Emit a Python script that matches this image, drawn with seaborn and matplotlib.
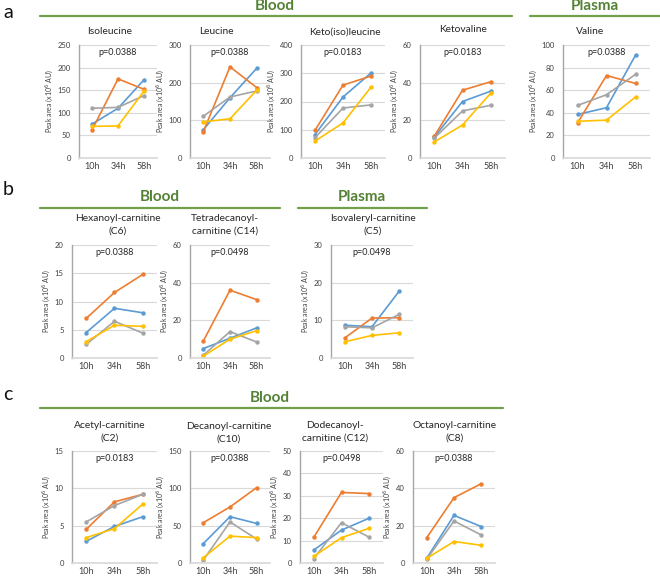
import matplotlib
matplotlib.use("Agg")
import matplotlib.pyplot as plt
from matplotlib.lines import Line2D
import pandas as pd
import seaborn as sns

sns.set_theme(style="white")
plt.rcParams["font.family"] = ["Lato", "DejaVu Sans"]

W, H = 660, 578

# ---------------------------------------------------------------------------
# DATA (x10^6 AU)
# ---------------------------------------------------------------------------
TIMES = ["10h", "34h", "58h"]
SERIES = ["blue", "orange", "gray", "yellow"]
COLORS = {"blue": "#5B9BD5", "orange": "#ED7D31", "gray": "#A5A5A5", "yellow": "#FFC000"}

isoleucine = {"blue": [75, 110, 173], "orange": [62, 175, 152],
              "gray": [110, 112, 138], "yellow": [70, 71, 148]}
leucine = {"blue": [75, 160, 238], "orange": [70, 242, 187],
           "gray": [111, 162, 178], "yellow": [96, 104, 180]}
keto_isoleucine = {"blue": [83, 216, 301], "orange": [98, 258, 290],
                   "gray": [72, 177, 188], "yellow": [60, 124, 251]}
ketovaline = {"blue": [11, 30, 35.5], "orange": [11.5, 36, 40.5],
              "gray": [10.5, 25, 28], "yellow": [8.5, 17.5, 34.5]}
valine = {"blue": [38.5, 44.5, 91], "orange": [31, 73, 66],
          "gray": [46.5, 56, 74], "yellow": [32.5, 33.5, 54]}
hexanoyl = {"blue": [4.5, 8.8, 8.0], "orange": [7, 11.6, 14.8],
            "gray": [2.4, 6.5, 4.4], "yellow": [2.9, 5.8, 5.6]}
tetradecanoyl = {"blue": [5, 10.5, 16], "orange": [9, 36, 31],
                 "gray": [1.5, 14, 8.5], "yellow": [1, 10, 14.5]}
isovaleryl = {"blue": [8.7, 8.3, 17.8], "orange": [5.3, 10.6, 10.7],
              "gray": [8.3, 8.0, 11.6], "yellow": [4.3, 6.0, 6.7]}
acetyl = {"blue": [2.9, 4.9, 6.2], "orange": [4.5, 8.2, 9.2],
          "gray": [5.5, 7.7, 9.2], "yellow": [3.4, 4.6, 7.9]}
decanoyl = {"blue": [26, 62, 53], "orange": [54, 75, 101],
            "gray": [4, 55, 32], "yellow": [7, 36, 34]}
dodecanoyl = {"blue": [5.8, 14.7, 20], "orange": [11.5, 31.5, 31],
              "gray": [2, 18, 11.5], "yellow": [3, 11.3, 15.5]}
octanoyl = {"blue": [2.5, 25.5, 19.5], "orange": [13.5, 35, 42.5],
            "gray": [2, 22.5, 15], "yellow": [2.5, 11.5, 9.5]}

# (title, data, ymax, ystep, p-value)
panels = [
    ("Isoleucine", isoleucine, 250, 50, "p=0.0388"),
    ("Leucine", leucine, 300, 100, "p=0.0388"),
    ("Keto(iso)leucine", keto_isoleucine, 400, 100, "p=0.0183"),
    ("Ketovaline", ketovaline, 60, 20, "p=0.0183"),
    ("Valine", valine, 100, 20, "p=0.0388"),
    ("Hexanoyl-carnitine\n(C6)", hexanoyl, 20, 5, "p=0.0388"),
    ("Tetradecanoyl-\ncarnitine (C14)", tetradecanoyl, 60, 20, "p=0.0498"),
    ("Isovaleryl-carnitine\n(C5)", isovaleryl, 30, 10, "p=0.0498"),
    ("Acetyl-carnitine\n(C2)", acetyl, 15, 5, "p=0.0183"),
    ("Decanoyl-carnitine\n(C10)", decanoyl, 150, 50, "p=0.0388"),
    ("Dodecanoyl-\ncarnitine (C12)", dodecanoyl, 50, 10, "p=0.0498"),
    ("Octanoyl-carnitine\n(C8)", octanoyl, 60, 20, "p=0.0388"),
]

# ---------------------------------------------------------------------------
# LAYOUT (pixel boxes: x0, x1, ytop, ybottom, title centre x, title y)
# ---------------------------------------------------------------------------
boxes = [
    (79, 157, 45, 158, 110, 32),
    (190, 270, 45, 158, 216, 32),
    (301, 385, 45, 158, 345, 32),
    (420, 505, 45, 158, 463, 30),
    (563, 650, 45, 158, 590, 32),
    (72, 157, 245, 358, 118, 225),
    (190, 270, 245, 358, 225, 225),
    (331, 413, 245, 358, 373, 225),
    (72, 157, 451, 563, 110, 432),
    (190, 270, 451, 563, 229, 433),
    (300, 383, 451, 563, 335, 432),
    (413, 495, 451, 563, 455, 432),
]

fig = plt.figure(figsize=(W / 100, H / 100), dpi=100)
fig.patch.set_facecolor("white")


def fx(x):
    return x / W


def fy(y):
    return 1 - y / H


for (title, data, ymax, ystep, pval), (x0, x1, yt, yb, tx, ty) in zip(panels, boxes):
    ax = fig.add_axes([fx(x0), fy(yb), (x1 - x0) / W, (yb - yt) / H])
    df = pd.DataFrame(
        [(i, s, v) for s in SERIES for i, v in enumerate(data[s])],
        columns=["t", "series", "value"],
    )
    sns.lineplot(data=df, x="t", y="value", hue="series", palette=COLORS,
                 marker="o", markersize=3.2, markeredgewidth=0, linewidth=1.2,
                 legend=False, ax=ax)
    ax.set_xlim(-0.5, 2.5)
    ax.set_ylim(0, ymax)
    ax.set_yticks(range(0, ymax + 1, ystep))
    ax.set_xticks(range(len(TIMES)))
    ax.set_xticklabels(TIMES)
    ax.yaxis.grid(True, color="#D9D9D9", linewidth=0.8)
    ax.set_axisbelow(True)
    for side in ["top", "right"]:
        ax.spines[side].set_visible(False)
    ax.spines["left"].set_color("#A6A6A6")
    ax.spines["bottom"].set_color("#D9D9D9")
    ax.spines["left"].set_linewidth(1.0)
    ax.tick_params(axis="y", labelsize=5.5, length=0, pad=6, colors="#404040")
    ax.tick_params(axis="x", labelsize=6.5, length=0, pad=3, colors="#404040")
    ax.set_xlabel("")
    ax.set_ylabel("Peak area (x10$^6$ AU)", fontsize=5, color="#404040", labelpad=2)
    ax.text(0.5, 0.93, pval, transform=ax.transAxes, ha="center", va="center",
            fontsize=6.5, color="#262626")
    fig.text(fx(tx), fy(ty), title, ha="center", va="center", fontsize=7.4,
             color="#262626", linespacing=1.5)

# section headers: (text, centre x, text y, line x0, line x1, line y)
GREEN_TEXT = "#548235"
GREEN_LINE = "#70A04A"
headers = [
    ("Blood", 275, 6, 40, 512, 16),
    ("Plasma", 595, 6, 530, 660, 16),
    ("Blood", 160, 197, 40, 280, 208),
    ("Plasma", 362, 197, 298, 427, 208),
    ("Blood", 270, 398, 40, 503, 408),
]
for text, cx, cy, lx0, lx1, ly in headers:
    fig.text(fx(cx), fy(cy), text, ha="center", va="center", fontsize=11,
             fontweight="bold", color=GREEN_TEXT)
    fig.add_artist(Line2D([fx(lx0), fx(lx1)], [fy(ly), fy(ly)],
                          color=GREEN_LINE, linewidth=1.6))

for letter, ly in [("a", 13), ("b", 190), ("c", 395)]:
    fig.text(fx(3), fy(ly), letter, ha="left", va="center", fontsize=14, color="#111111")

fig.savefig("out.png", dpi=100, facecolor="white")
